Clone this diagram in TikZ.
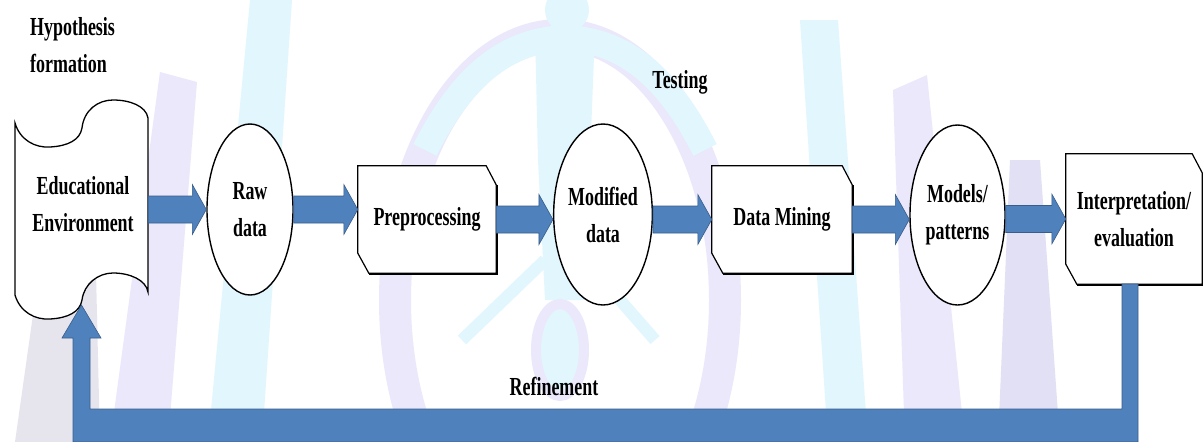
\documentclass[tikz,border=0pt]{standalone}
\usepackage{fontspec}
\setmainfont[FakeStretch=0.69]{Liberation Serif}
\usetikzlibrary{shapes.geometric,calc}
\definecolor{ablue}{RGB}{79,129,189}
\definecolor{aedge}{RGB}{56,93,138}
\definecolor{wlav}{RGB}{234,232,250}
\definecolor{wlavd}{RGB}{226,224,245}
\definecolor{wcyan}{RGB}{226,246,253}
\definecolor{wgray}{RGB}{230,229,238}
\pgfdeclarelayer{wm}
\pgfdeclarelayer{bg}
\pgfsetlayers{wm,bg,main}
\tikzset{
  lbl/.style={font=\bfseries\fontsize{26}{37}\selectfont, align=center, inner sep=0pt},
  ell/.style={ellipse, draw, line width=1.4pt, fill=white, inner sep=0pt, lbl},
  boxn/.style={inner sep=0pt, lbl},
  boxshape/.style={draw, line width=1.2pt, fill=white},
  blk/.style={draw=aedge, fill=ablue, line width=0.6pt},
}
\newcommand\blockarrow[3]{%
  \path[blk] let \p1=(#1.east), \p2=(#2.west), \p3=(#3.center) in
    (\x1,\y3+13.5pt) -- (\x2-14pt,\y3+13.5pt) -- (\x2-14pt,\y3+25pt) -- (\x2,\y3)
    -- (\x2-14pt,\y3-25pt) -- (\x2-14pt,\y3-13.5pt) -- (\x1,\y3-13.5pt) -- cycle;}
\newcommand\chambox[1]{%
  \begin{pgfonlayer}{bg}
  \draw[boxshape] (#1.north west) -- ([xshift=-10pt]#1.north east) -- ([yshift=-19pt]#1.north east)
    -- (#1.south east) -- ([xshift=11pt]#1.south west) -- ([yshift=20pt]#1.south west) -- cycle;
  \draw[line width=2.2pt] ([xshift=11pt,yshift=-1pt]#1.south west) -- ([xshift=1pt,yshift=-1pt]#1.south east)
    -- ([xshift=1pt,yshift=-19pt]#1.north east);
  \end{pgfonlayer}}
\begin{document}
\begin{tikzpicture}[x=1pt,y=-1pt]
\useasboundingbox (0,0) rectangle (1203,442);
% watermark
\begin{pgfonlayer}{wm}
\fill[white] (0,0) rectangle (1203,442);
\fill[wgray] (45,230) -- (95,230) -- (100,442) -- (15,442) -- cycle;
\fill[wlav] (160,72) -- (197,82) -- (168,442) -- (110,442) -- cycle;
\fill[wcyan] (250,0) -- (292,0) -- (262,442) -- (208,442) -- cycle;
\draw[wlav, line width=32pt] (560,300) ellipse [x radius=165, y radius=265];
\draw[wcyan, line width=26pt] (425,150) .. controls (470,60) and (520,40) .. (565,38) .. controls (610,40) and (660,60) .. (705,150);
\fill[wcyan] (567,10) ellipse [x radius=22, y radius=22];
\fill[wcyan] (535,30) -- (595,30) -- (590,160) -- (585,300) -- (545,300) -- (538,160) -- cycle;
\draw[wcyan, line width=12pt] (545,260) -- (462,340);
\draw[wcyan, line width=12pt] (585,260) -- (655,340);
\draw[wlav, line width=10pt, fill=wcyan] (560,350) ellipse [x radius=24, y radius=46];
\fill[wcyan] (800,20) -- (838,20) -- (868,442) -- (828,442) -- cycle;
\fill[wlav] (893,90) -- (927,75) -- (965,442) -- (905,442) -- cycle;
\fill[wlavd] (1010,160) -- (1040,160) -- (1060,442) -- (998,442) -- cycle;
\end{pgfonlayer}
% Educational environment (tape shape)
\begin{pgfonlayer}{bg}
\draw[line width=1.3pt, fill=white]
  (15,123) .. controls (20,140) and (35,148) .. (50,147)
  .. controls (68,146) and (80,140) .. (82,128)
  .. controls (84,110) and (98,100) .. (113,100)
  .. controls (130,100) and (146,106) .. (148,118)
  -- (148,292)
  .. controls (146,280) and (130,273) .. (113,273)
  .. controls (98,273) and (84,284) .. (82,300)
  .. controls (80,312) and (68,318) .. (50,319)
  .. controls (35,320) and (20,312) .. (15,295) -- cycle;
\end{pgfonlayer}
\node[boxn, minimum width=133pt, minimum height=172pt] (edu) at (81.5,209) {};
\node[lbl] (edutxt) at (83,204) {Educational\\Environment};
\coordinate (edubot) at (81.5,305);
% ellipses
\node[ell, minimum width=86pt, minimum height=171pt] (raw) at (250,209.5) {Raw\\data};
\node[ell, minimum width=95pt, minimum height=181pt] (mod) at (603,214.5) {Modified\\data};
\node[ell, minimum width=95pt, minimum height=180pt] (mdl) at (957.5,215) {Models/\\patterns};
% boxes
\node[boxn, minimum width=138pt, minimum height=107pt] (pre) at (427,219.5) {Preprocessing};
\node[boxn, minimum width=140pt, minimum height=107pt] (dm) at (782,219.5) {Data Mining};
\node[boxn, minimum width=136pt, minimum height=130pt] (int) at (1134,219) {Interpretation/\\evaluation};
\chambox{pre}
\chambox{dm}
\chambox{int}
% labels
\node[lbl, align=left, anchor=north west] (hyp) at (30,17) {Hypothesis\\formation};
\node[lbl] (test) at (680,82) {Testing};
\node[lbl] (ref) at (554,386) {Refinement};
% block arrows
\blockarrow{edu}{raw}{raw}
\blockarrow{raw}{pre}{raw}
\blockarrow{pre}{mod}{pre}
\blockarrow{mod}{dm}{dm}
\blockarrow{dm}{mdl}{dm}
\blockarrow{mdl}{int}{int}
% refinement loop
\coordinate (rstem) at (1130,284);
\path[blk] let \p1=(rstem), \p2=(edubot) in
  (\x1-8pt,\y1) -- (\x1+8pt,\y1) -- (\x1+8pt,\y2-137pt) -- (\x2-8.5pt,\y2-137pt)
  -- (\x2-8.5pt,\y2-33pt) -- (\x2-19.5pt,\y2-33pt) -- (\x2,\y2) -- (\x2+19.5pt,\y2-33pt)
  -- (\x2+8.5pt,\y2-33pt) -- (\x2+8.5pt,\y2-104pt) -- (\x1-8pt,\y2-104pt) -- cycle;
\end{tikzpicture}
\end{document}
